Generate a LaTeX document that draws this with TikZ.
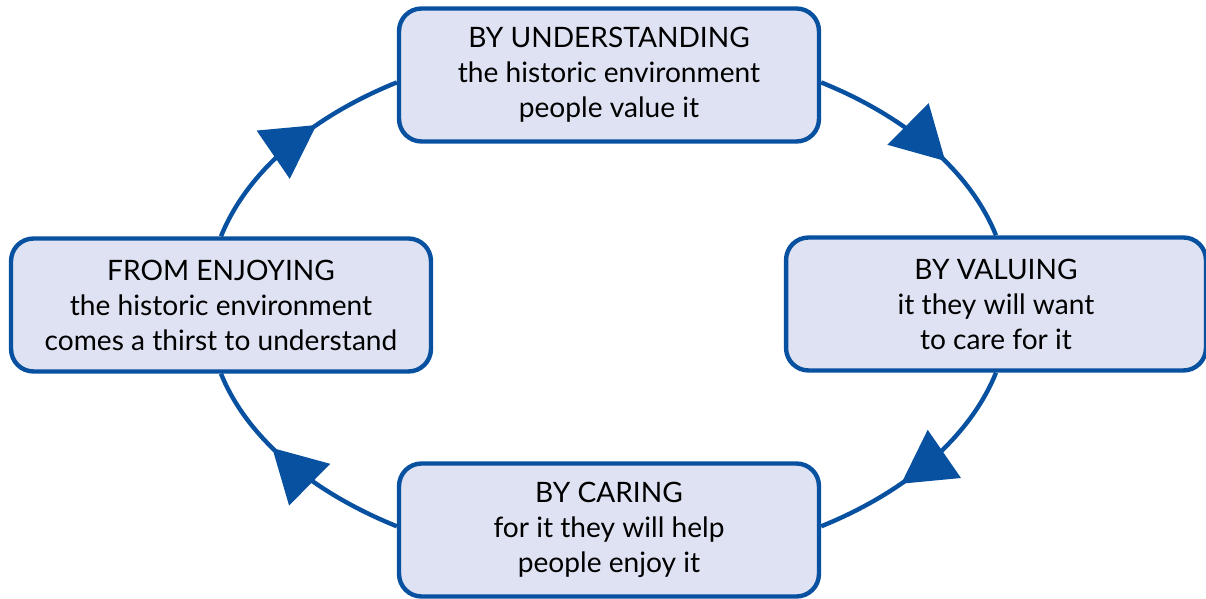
\documentclass[tikz,border=0pt]{standalone}
\usepackage{fontspec}
\setmainfont{Lato}
\usetikzlibrary{arrows.meta,decorations.markings}
\definecolor{cycleblue}{RGB}{8,80,160}
\definecolor{stagefill}{RGB}{223,226,242}

\begin{document}
\begin{tikzpicture}[x=0.02cm, y=0.02cm,
  stage/.style={draw=cycleblue, line width=2.5pt, fill=stagefill, rounded corners=0.45cm,
    minimum width=8.4cm, minimum height=2.66cm, inner sep=0pt, align=center,
    font=\fontsize{16pt}{19.9pt}\selectfont},
  flow/.style={color=cycleblue, line width=2.5pt, postaction={decorate},
    decoration={markings, mark=at position 0.62 with {\arrow{Triangle[length=1.05cm, width=1.15cm]}}}}]
  \useasboundingbox (0,0) rectangle (1206,598);

  \node[stage] (understand) at (609,523) {BY UNDERSTANDING\\the historic environment\\people value it};
  \node[stage] (valuing) at (996,294) {BY VALUING\\it they will want\\to care for it};
  \node[stage] (caring) at (609,68) {BY CARING\\for it they will help\\people enjoy it};
  \node[stage] (enjoying) at (221,293) {FROM ENJOYING\\the historic environment\\comes a thirst to understand};

  \draw[flow] (understand.-2) to[out=-22, in=112, out looseness=1.02, in looseness=0.76] (valuing.north);
  \draw[flow] (valuing.south) to[out=-112, in=22, out looseness=0.76, in looseness=1.02] (caring.1);
  \draw[flow] (caring.179) to[out=158, in=-68, out looseness=1.02, in looseness=0.76] (enjoying.south);
  \draw[flow] (enjoying.north) to[out=68, in=202, out looseness=0.76, in looseness=1.02] (understand.182);
\end{tikzpicture}
\end{document}
